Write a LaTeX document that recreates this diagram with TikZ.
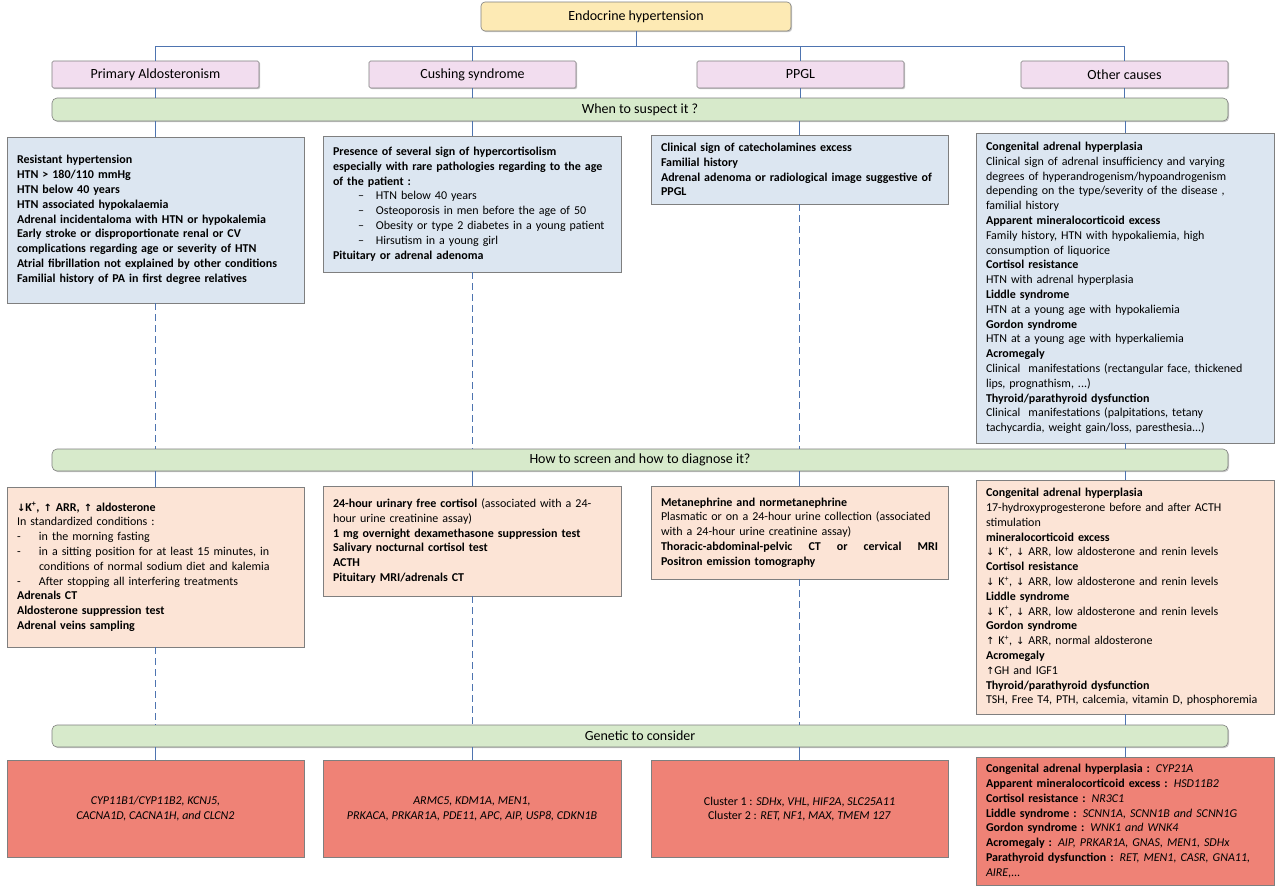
\documentclass[tikz,border=0pt]{standalone}
\usepackage{fontspec}
\setmainfont{Carlito}
\newfontfamily\arrowfont{DejaVu Sans}
\usetikzlibrary{shadows}
\definecolor{ttlc}{HTML}{FDEAB4}
\definecolor{hdrc}{HTML}{F2DDEF}
\definecolor{barc}{HTML}{D7EACB}
\definecolor{bluec}{HTML}{DCE6F1}
\definecolor{orc}{HTML}{FCE4D6}
\definecolor{redc}{HTML}{EF8276}
\definecolor{bordc}{HTML}{7F7F7F}
\definecolor{linec}{HTML}{4E74B0}
\newcommand{\dnar}{{\arrowfont\fontsize{10}{10}\selectfont ↓}}
\newcommand{\upar}{{\arrowfont\fontsize{10}{10}\selectfont ↑}}
\newcommand{\Kp}{K\textsuperscript{+}}
\tikzset{
  conn/.style={draw=linec, line width=0.8pt},
  dconn/.style={conn, dash pattern=on 7pt off 4pt},
  shd/.style={drop shadow={shadow xshift=1.2pt, shadow yshift=-1.2pt, opacity=0.22, fill=black}},
  headbase/.style={draw=bordc, line width=0.6pt, inner sep=0pt, align=center, text=black,
    font=\fontsize{14}{16}\selectfont},
  titlebox/.style={headbase, shd, fill=ttlc, rounded corners=4pt, minimum width=310pt, minimum height=29pt},
  hdrbox/.style={headbase, shd, fill=hdrc, rounded corners=1.5pt, minimum width=207pt, minimum height=27pt},
  barbox/.style={headbase, shd, fill=barc, rounded corners=5pt, minimum width=1176pt, minimum height=23pt},
  body/.style={draw=bordc, line width=0.6pt, inner xsep=10pt, inner ysep=2pt, align=left, text=black,
    font=\fontsize{12}{14.8}\selectfont},
  wbox/.style={body, fill=bluec},
  dbox/.style={body, fill=orc},
  gbox/.style={body, fill=redc},
}
\begin{document}
\begin{tikzpicture}[x=1pt,y=-1pt]
\useasboundingbox (0,0) rectangle (1280,889);
\fill[white] (0,0) rectangle (1280,889);

% top level
\node[titlebox] (title) at (636,16.5) {Endocrine hypertension};
\node[hdrbox] (pa) at (155.5,74.5) {Primary Aldosteronism};
\node[hdrbox] (cs) at (472.5,74.5) {Cushing syndrome};
\node[hdrbox] (pp) at (800.5,74.5) {PPGL};
\node[hdrbox] (oc) at (1124.5,74.5) {Other causes};

% bars
\node[barbox] (q1) at (640,109.5) {When to suspect it ?};
\node[barbox, minimum height=22pt] (q2) at (640,460) {How to screen and how to diagnose it?};
\node[barbox, minimum height=22pt] (q3) at (640,736) {Genetic to consider};

% when to suspect
\node[wbox, text width=277pt, minimum height=166pt] (w1) at (155.5,220) {%
\textbf{Resistant hypertension}\\
\textbf{HTN > 180/110 mmHg}\\
\textbf{HTN below 40 years}\\
\textbf{HTN associated hypokalaemia}\\
\textbf{Adrenal incidentaloma with HTN or hypokalemia}\\
\textbf{Early stroke or disproportionate renal or CV}\\
\textbf{complications regarding age or severity of HTN}\\
\textbf{Atrial fibrillation not explained by other conditions}\\
\textbf{Familial history of PA in first degree relatives}};

\node[wbox, text width=278pt, minimum height=136pt] (w2) at (472,204) {%
\textbf{Presence of several sign of hypercortisolism}\\
\textbf{especially with rare pathologies regarding to the age}\\
\textbf{of the patient :}\\
\hspace*{25pt}\makebox[18pt][l]{--}HTN below 40 years\\
\hspace*{25pt}\makebox[18pt][l]{--}Osteoporosis in men before the age of 50\\
\hspace*{25pt}\makebox[18pt][l]{--}Obesity or type 2 diabetes in a young patient\\
\hspace*{25pt}\makebox[18pt][l]{--}Hirsutism in a young girl\\
\textbf{Pituitary or adrenal adenoma}};

\node[wbox, text width=277pt, minimum height=69pt] (w3) at (799.5,169.5) {%
\textbf{Clinical sign of catecholamines excess}\\
\textbf{Familial history}\\
\textbf{Adrenal adenoma or radiological image suggestive of}\\
\textbf{PPGL}};

\node[wbox, text width=278pt, minimum height=310pt] (w4) at (1125,288) {%
\textbf{Congenital adrenal hyperplasia}\\
Clinical sign of adrenal insufficiency and varying\\
degrees of hyperandrogenism/hypoandrogenism\\
depending on the type/severity of the disease ,\\
familial history\\
\textbf{Apparent mineralocorticoid excess}\\
Family history, HTN with hypokaliemia, high\\
consumption of liquorice\\
\textbf{Cortisol resistance}\\
HTN with adrenal hyperplasia\\
\textbf{Liddle syndrome}\\
HTN at a young age with hypokaliemia\\
\textbf{Gordon syndrome}\\
HTN at a young age with hyperkaliemia\\
\textbf{Acromegaly}\\
Clinical\ \ manifestations (rectangular face, thickened\\
lips, prognathism, ...)\\
\textbf{Thyroid/parathyroid dysfunction}\\
Clinical\ \ manifestations (palpitations, tetany\\
tachycardia, weight gain/loss, paresthesia...)};

% how to diagnose
\node[dbox, text width=277pt, minimum height=160pt] (d1) at (155.5,567) {%
\textbf{\dnar\Kp, \upar\ ARR, \upar\ aldosterone}\\
In standardized conditions :\\
\makebox[22pt][l]{-}in the morning fasting\\
\makebox[22pt][l]{-}in a sitting position for at least 15 minutes, in\\
\hspace*{22pt}conditions of normal sodium diet and kalemia\\
\makebox[22pt][l]{-}After stopping all interfering treatments\\
\textbf{Adrenals CT}\\
\textbf{Aldosterone suppression test}\\
\textbf{Adrenal veins sampling}};

\node[dbox, text width=278pt, minimum height=110pt] (d2) at (472,541) {%
\textbf{24-hour urinary free cortisol} (associated with a 24-\\
hour urine creatinine assay)\\
\textbf{1 mg overnight dexamethasone suppression test}\\
\textbf{Salivary nocturnal cortisol test}\\
\textbf{ACTH}\\
\textbf{Pituitary MRI/adrenals CT}};

\node[dbox, text width=277pt, minimum height=93pt] (d3) at (799.5,532.5) {%
\textbf{Metanephrine and normetanephrine}\\
Plasmatic or on a 24-hour urine collection (associated\\
with a 24-hour urine creatinine assay)\\
\makebox[277pt][s]{\bfseries Thoracic-abdominal-pelvic\hfil CT\hfil or\hfil cervical\hfil MRI}\\
\textbf{Positron emission tomography}};

\node[dbox, text width=278pt, minimum height=234pt] (d4) at (1125,597) {%
\textbf{Congenital adrenal hyperplasia}\\
17-hydroxyprogesterone before and after ACTH\\
stimulation\\
\textbf{mineralocorticoid excess}\\
\dnar\ \Kp, \dnar\ ARR, low aldosterone and renin levels\\
\textbf{Cortisol resistance}\\
\dnar\ \Kp, \dnar\ ARR, low aldosterone and renin levels\\
\textbf{Liddle syndrome}\\
\dnar\ \Kp, \dnar\ ARR, low aldosterone and renin levels\\
\textbf{Gordon syndrome}\\
\upar\ \Kp, \dnar\ ARR, normal aldosterone\\
\textbf{Acromegaly}\\
\upar GH and IGF1\\
\textbf{Thyroid/parathyroid dysfunction}\\
TSH, Free T4, PTH, calcemia, vitamin D, phosphoremia};

% genetics
\node[gbox, align=center, minimum width=297pt, minimum height=97pt] (g1) at (155.5,809) {%
\textit{CYP11B1/CYP11B2, KCNJ5,}\\
\textit{CACNA1D, CACNA1H, and CLCN2}};

\node[gbox, align=center, minimum width=298pt, minimum height=97pt] (g2) at (472,809) {%
\textit{ARMC5, KDM1A, MEN1,}\\
\textit{PRKACA, PRKAR1A, PDE11, APC, AIP, USP8, CDKN1B}};

\node[gbox, align=center, minimum width=297pt, minimum height=97pt] (g3) at (799.5,809) {%
Cluster 1 : \textit{SDHx, VHL, HIF2A, SLC25A11}\\
Cluster 2 : \textit{RET, NF1, MAX, TMEM 127}};

\node[gbox, text width=278pt, minimum height=128pt] (g4) at (1125,821) {%
\textbf{Congenital adrenal hyperplasia :} \textit{CYP21A}\\
\textbf{Apparent mineralocorticoid excess :} \textit{HSD11B2}\\
\textbf{Cortisol resistance :} \textit{NR3C1}\\
\textbf{Liddle syndrome :} \textit{SCNN1A, SCNN1B and SCNN1G}\\
\textbf{Gordon syndrome :} \textit{WNK1 and WNK4}\\
\textbf{Acromegaly :} \textit{AIP, PRKAR1A, GNAS, MEN1, SDHx}\\
\textbf{Parathyroid dysfunction :} \textit{RET, MEN1, CASR, GNA11,}\\
\textit{AIRE,...}};

% connectors: tree
\coordinate (bus) at (636,46);
\draw[conn] (title.south) -- (bus);
\foreach \n in {pa,cs,pp,oc} \draw[conn] (\n.north) |- (bus);
\foreach \n in {pa,cs,pp,oc} \draw[conn] (\n.south) -- (\n.south |- q1.north);
\foreach \n in {w1,w2,w3,w4} \draw[conn] (\n.north |- q1.south) -- (\n.north);
\foreach \n in {w1,w2,w3} \draw[dconn] (\n.south) -- (\n.south |- q2.north);
\draw[conn] (w4.south) -- (w4.south |- q2.north);
\foreach \n in {d1,d2,d3,d4} \draw[conn] (\n.north |- q2.south) -- (\n.north);
\foreach \n in {d1,d2,d3} \draw[dconn] (\n.south) -- (\n.south |- q3.north);
\draw[conn] (d4.south) -- (d4.south |- q3.north);
\foreach \n in {g1,g2,g3,g4} \draw[conn] (\n.north |- q3.south) -- (\n.north);
\end{tikzpicture}
\end{document}
